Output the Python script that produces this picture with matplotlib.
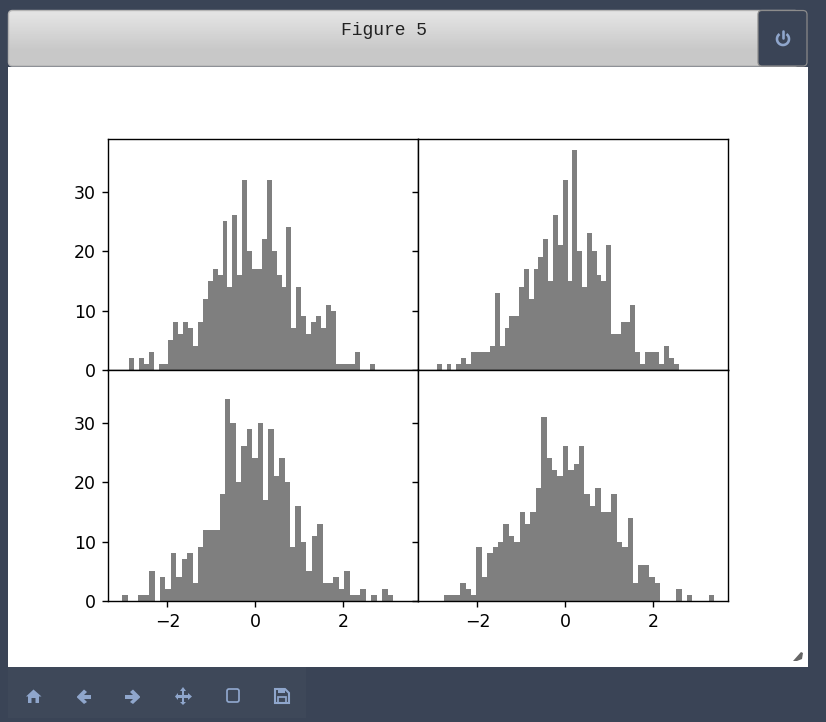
import numpy as np
import matplotlib
matplotlib.use("Agg")
import matplotlib.pyplot as plt
from matplotlib.patches import Rectangle, FancyBboxPatch, Polygon, Arc

# bin counts (50 bins each, 500 samples each)
counts_tl = [2, 0, 2, 1, 3, 0, 1, 1, 5, 8, 6, 8, 7, 4, 8, 12, 15, 17, 16, 25, 14, 26, 16, 32, 20,
             17, 17, 22, 32, 20, 16, 14, 24, 7, 14, 9, 6, 8, 9, 7, 11, 10, 1, 1, 1, 1, 3, 0, 0, 1]
counts_tr = [1, 0, 1, 0, 1, 2, 1, 3, 3, 3, 3, 4, 13, 4, 7, 9, 9, 14, 17, 12, 17, 19, 22, 15, 26,
             21, 32, 15, 37, 20, 14, 23, 20, 16, 15, 21, 6, 6, 8, 8, 11, 3, 1, 3, 3, 3, 1, 4, 2, 1]
counts_bl = [1, 0, 0, 1, 1, 5, 0, 4, 2, 8, 4, 7, 8, 3, 9, 12, 12, 12, 18, 34, 30, 20, 26, 29, 24,
             30, 17, 29, 21, 24, 20, 9, 16, 10, 5, 11, 13, 3, 3, 4, 2, 5, 1, 1, 2, 0, 1, 0, 2, 1]
counts_br = [1, 1, 1, 3, 2, 1, 9, 4, 8, 9, 10, 13, 11, 10, 15, 13, 15, 19, 31, 24, 22, 21, 26, 22, 23,
             26, 18, 16, 19, 15, 15, 18, 10, 9, 14, 3, 6, 6, 4, 3, 0, 0, 0, 2, 0, 1, 0, 0, 0, 1]

# data range of each histogram
range_tl = (-2.87, 2.72)
range_tr = (-2.92, 2.58)
range_bl = (-3.03, 3.13)
range_br = (-2.76, 3.38)

W, H = 826, 722
DARK = "#3a4456"
ICON = "#8fa6cc"

fig, axes = plt.subplots(2, 2, sharex=True, sharey=True, figsize=(W / 125, H / 125), dpi=125)
fig.patch.set_facecolor(DARK)
fig.subplots_adjust(left=108 / W, right=728 / W, top=1 - 139 / H, bottom=1 - 601 / H,
                    wspace=0, hspace=0)

panels = [(axes[0, 0], counts_tl, range_tl), (axes[0, 1], counts_tr, range_tr),
          (axes[1, 0], counts_bl, range_bl), (axes[1, 1], counts_br, range_br)]
for ax, counts, rng in panels:
    edges = np.linspace(rng[0], rng[1], len(counts) + 1)
    ax.hist(edges[:-1], bins=edges, weights=counts, color="k", alpha=0.5)
    ax.set_yticks([0, 10, 20, 30])
    ax.set_xticks([-2, 0, 2])

# notebook widget around the figure, in pixel coordinates
ui = fig.add_axes([0, 0, 1, 1], zorder=-1)
grad = np.concatenate([np.linspace(0.90, 0.785, 40), np.full(16, 0.785)]).reshape(-1, 1)
im = ui.imshow(grad, cmap="gray", vmin=0, vmax=1, extent=(8, 766, 66, 10), aspect="auto")
bar = FancyBboxPatch((8.5, 10.5), 790, 55.5, boxstyle="round,pad=0,rounding_size=4", fc="none",
                     ec="#b4b4b4", lw=0.8)
ui.add_patch(bar)
im.set_clip_path(bar)
ui.add_patch(Rectangle((8, 67), 800, 600, fc="white", ec="none"))
ui.add_patch(Rectangle((8, 667), 298, 51, fc="#3e4859", ec="none"))
ui.add_patch(FancyBboxPatch((758, 10.5), 49, 55.5, boxstyle="round,pad=0,rounding_size=4", fc=DARK,
                            ec="#8c8c8c", lw=0.7))
ui.text(384, 30.5, "Figure 5", family="Liberation Mono", fontsize=10.4, color="#222222",
        ha="center", va="center")

# power button
ui.add_patch(Arc((783, 39), 12, 12, theta1=-55, theta2=235, ec=ICON, lw=1.5))
ui.plot([783, 783], [31, 38], color=ICON, lw=1.5, solid_capstyle="round")

# toolbar icons
ui.add_patch(Polygon([(26, 696.5), (33.5, 689.5), (41.5, 696.5), (39, 696.5), (39, 703), (35.5, 703), (35.5, 698),
                      (31.5, 698), (31.5, 703), (28, 703), (28, 696.5)], fc=ICON, ec="none"))
ui.add_patch(Polygon([(77, 696.5), (84, 689.5), (87, 692), (84, 695), (91, 695), (91, 699), (84, 699),
                     (87, 702), (84, 704), (77, 697.5)], fc=ICON, ec="none"))
ui.add_patch(Polygon([(140, 696.5), (133, 689.5), (130, 692), (133, 695), (125, 695), (125, 699), (133, 699),
                     (130, 702), (133, 704), (140, 697.5)], fc=ICON, ec="none"))
ui.add_patch(Polygon([(183, 687), (186, 691), (184, 691), (184, 695), (188, 695), (188, 693), (192, 696.5),
                     (188, 700), (188, 698), (184, 698), (184, 702), (186, 702), (183, 705), (180, 702),
                     (182, 702), (182, 698), (178, 698), (178, 700), (175, 696.5), (178, 693), (178, 695),
                     (182, 695), (182, 691), (180, 691)], fc=ICON, ec="none"))
ui.add_patch(FancyBboxPatch((227, 689), 12, 13, boxstyle="round,pad=0,rounding_size=2", fc="none",
                            ec=ICON, lw=1.0))
ui.add_patch(Polygon([(275, 689), (285, 689), (289, 693), (289, 703), (275, 703)], fc="none", ec=ICON, lw=1.2))
ui.add_patch(Rectangle((278, 689), 7, 4, fc=ICON, ec="none"))
ui.add_patch(Rectangle((278, 697), 8, 6, fc="none", ec=ICON, lw=1.0))

# resize handle
ui.add_patch(Polygon([(793, 661), (801, 652), (803, 653), (802, 659), (797, 661)], fc="#666666", ec="none"))

ui.set_xlim(0, W)
ui.set_ylim(H, 0)
ui.axis("off")

fig.savefig("out.png", dpi=125, facecolor=fig.get_facecolor())
